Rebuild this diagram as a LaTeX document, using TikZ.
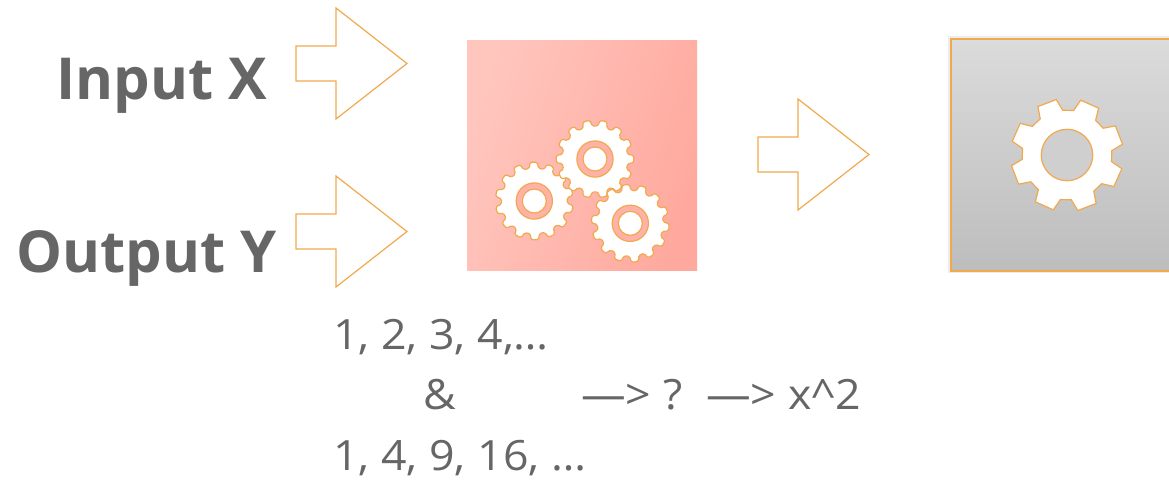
\documentclass[tikz,border=0pt]{standalone}
\usepackage{fontspec}
\setmainfont{Open Sans}
\newfontfamily\bodyfont[FakeStretch=1.07]{Open Sans}
\usetikzlibrary{calc}
\definecolor{edgeor}{HTML}{F2A94E}
\definecolor{txtgray}{HTML}{666666}
\definecolor{pinkA}{HTML}{FFC6BE}
\definecolor{pinkB}{HTML}{FFA99E}
\definecolor{grayA}{HTML}{DBDBDB}
\definecolor{grayB}{HTML}{BDBDBD}
\tikzset{
  px/.style={x=0.75pt,y=-0.75pt},
  outline/.style={draw=edgeor,line width=0.9pt,line join=miter},
  arrowshape/.style={outline,fill=white},
  bigtitle/.style={font=\fontsize{43.4}{44}\selectfont\bfseries,text=txtgray,inner sep=0pt,anchor=base west},
  bodytext/.style={font=\bodyfont\fontsize{31.3}{32}\selectfont,text=txtgray,inner sep=0pt,anchor=base west},
}
% #1 x, #2 y, #3 teeth, #4 outer r, #5 root r, #6 start angle, #7 tip half-width, #8 base half-width
\newcommand{\gearpath}[8]{%
  \pgfmathsetmacro{\gstep}{360/#3}%
  \pgfmathtruncatemacro{\glast}{#3-1}%
  \foreach \gi in {0,...,\glast}{%
    \pgfmathsetmacro{\ga}{#6+\gi*\gstep}%
    \xdef\gearstore{\ifnum\gi=0 \else\gearstore -- \fi
      ($(#1,#2)+({\ga-#8}:#5)$) -- ($(#1,#2)+({\ga-#7}:#4)$) -- ($(#1,#2)+({\ga+#7}:#4)$) -- ($(#1,#2)+({\ga+#8}:#5)$)}%
  }%
}
\begin{document}
\begin{tikzpicture}[px]
\useasboundingbox (0,0) rectangle (1169,480);
% arrows
\draw[arrowshape] (296,46) -- (336,46) -- (336,8) -- (407,63.5) -- (336,119) -- (336,81) -- (296,81) -- cycle;
\draw[arrowshape] (296,214) -- (336,214) -- (336,176) -- (407,231.5) -- (336,287) -- (336,249) -- (296,249) -- cycle;
\draw[arrowshape] (758,137) -- (798,137) -- (798,99) -- (869,154.5) -- (798,210) -- (798,172) -- (758,172) -- cycle;
% pink box
\shade[left color=pinkA,right color=pinkB,shading angle=72] (467,40) rectangle (697,270);
% gray box
\fill[black!7] (948,36) rectangle (1169,273);
\shade[top color=grayA,bottom color=grayB] (951,39) rectangle (1172,271);
\draw[edgeor,line width=1.1pt] (1172,39) -- (951,39) -- (951,271) -- (1172,271);
% small gears
\foreach \cx/\cy/\st in {534.3/201/12, 595/159/0, 630.3/223.3/6}{
  \gearpath{\cx}{\cy}{14}{39}{33}{\st}{5.4}{8}
  \draw[outline,fill=white,rounded corners=1.2pt] \gearstore -- cycle;
  \draw[outline,fill=pinkB!70!pinkA] (\cx,\cy) circle (13.6pt);
  \draw[outline,fill=white] (\cx,\cy) circle (9pt);
}
% big gear
\gearpath{1067}{155}{8}{56.5}{45}{24}{10}{15.5}
\draw[outline,fill=white] \gearstore -- cycle;
\draw[outline,fill=grayA!60!grayB] (1067,155) circle (19.3pt);
% text
\node[bigtitle,name=inputx] at (56.5,99) {Input X};
\node[bigtitle,name=outputy] at (16.5,272) {Output Y};
\node[bodytext,name=l1] at (333,349) {1, 2, 3, 4,…};
\node[bodytext,name=amp] at (423,409) {\&};
\node[bodytext,name=q] at (581,409) {—> ?};
\node[bodytext,name=sq] at (706,409) {—> x\textasciicircum 2};
\node[bodytext,name=l3] at (333,470) {1, 4, 9, 16, …};
\end{tikzpicture}
\end{document}
